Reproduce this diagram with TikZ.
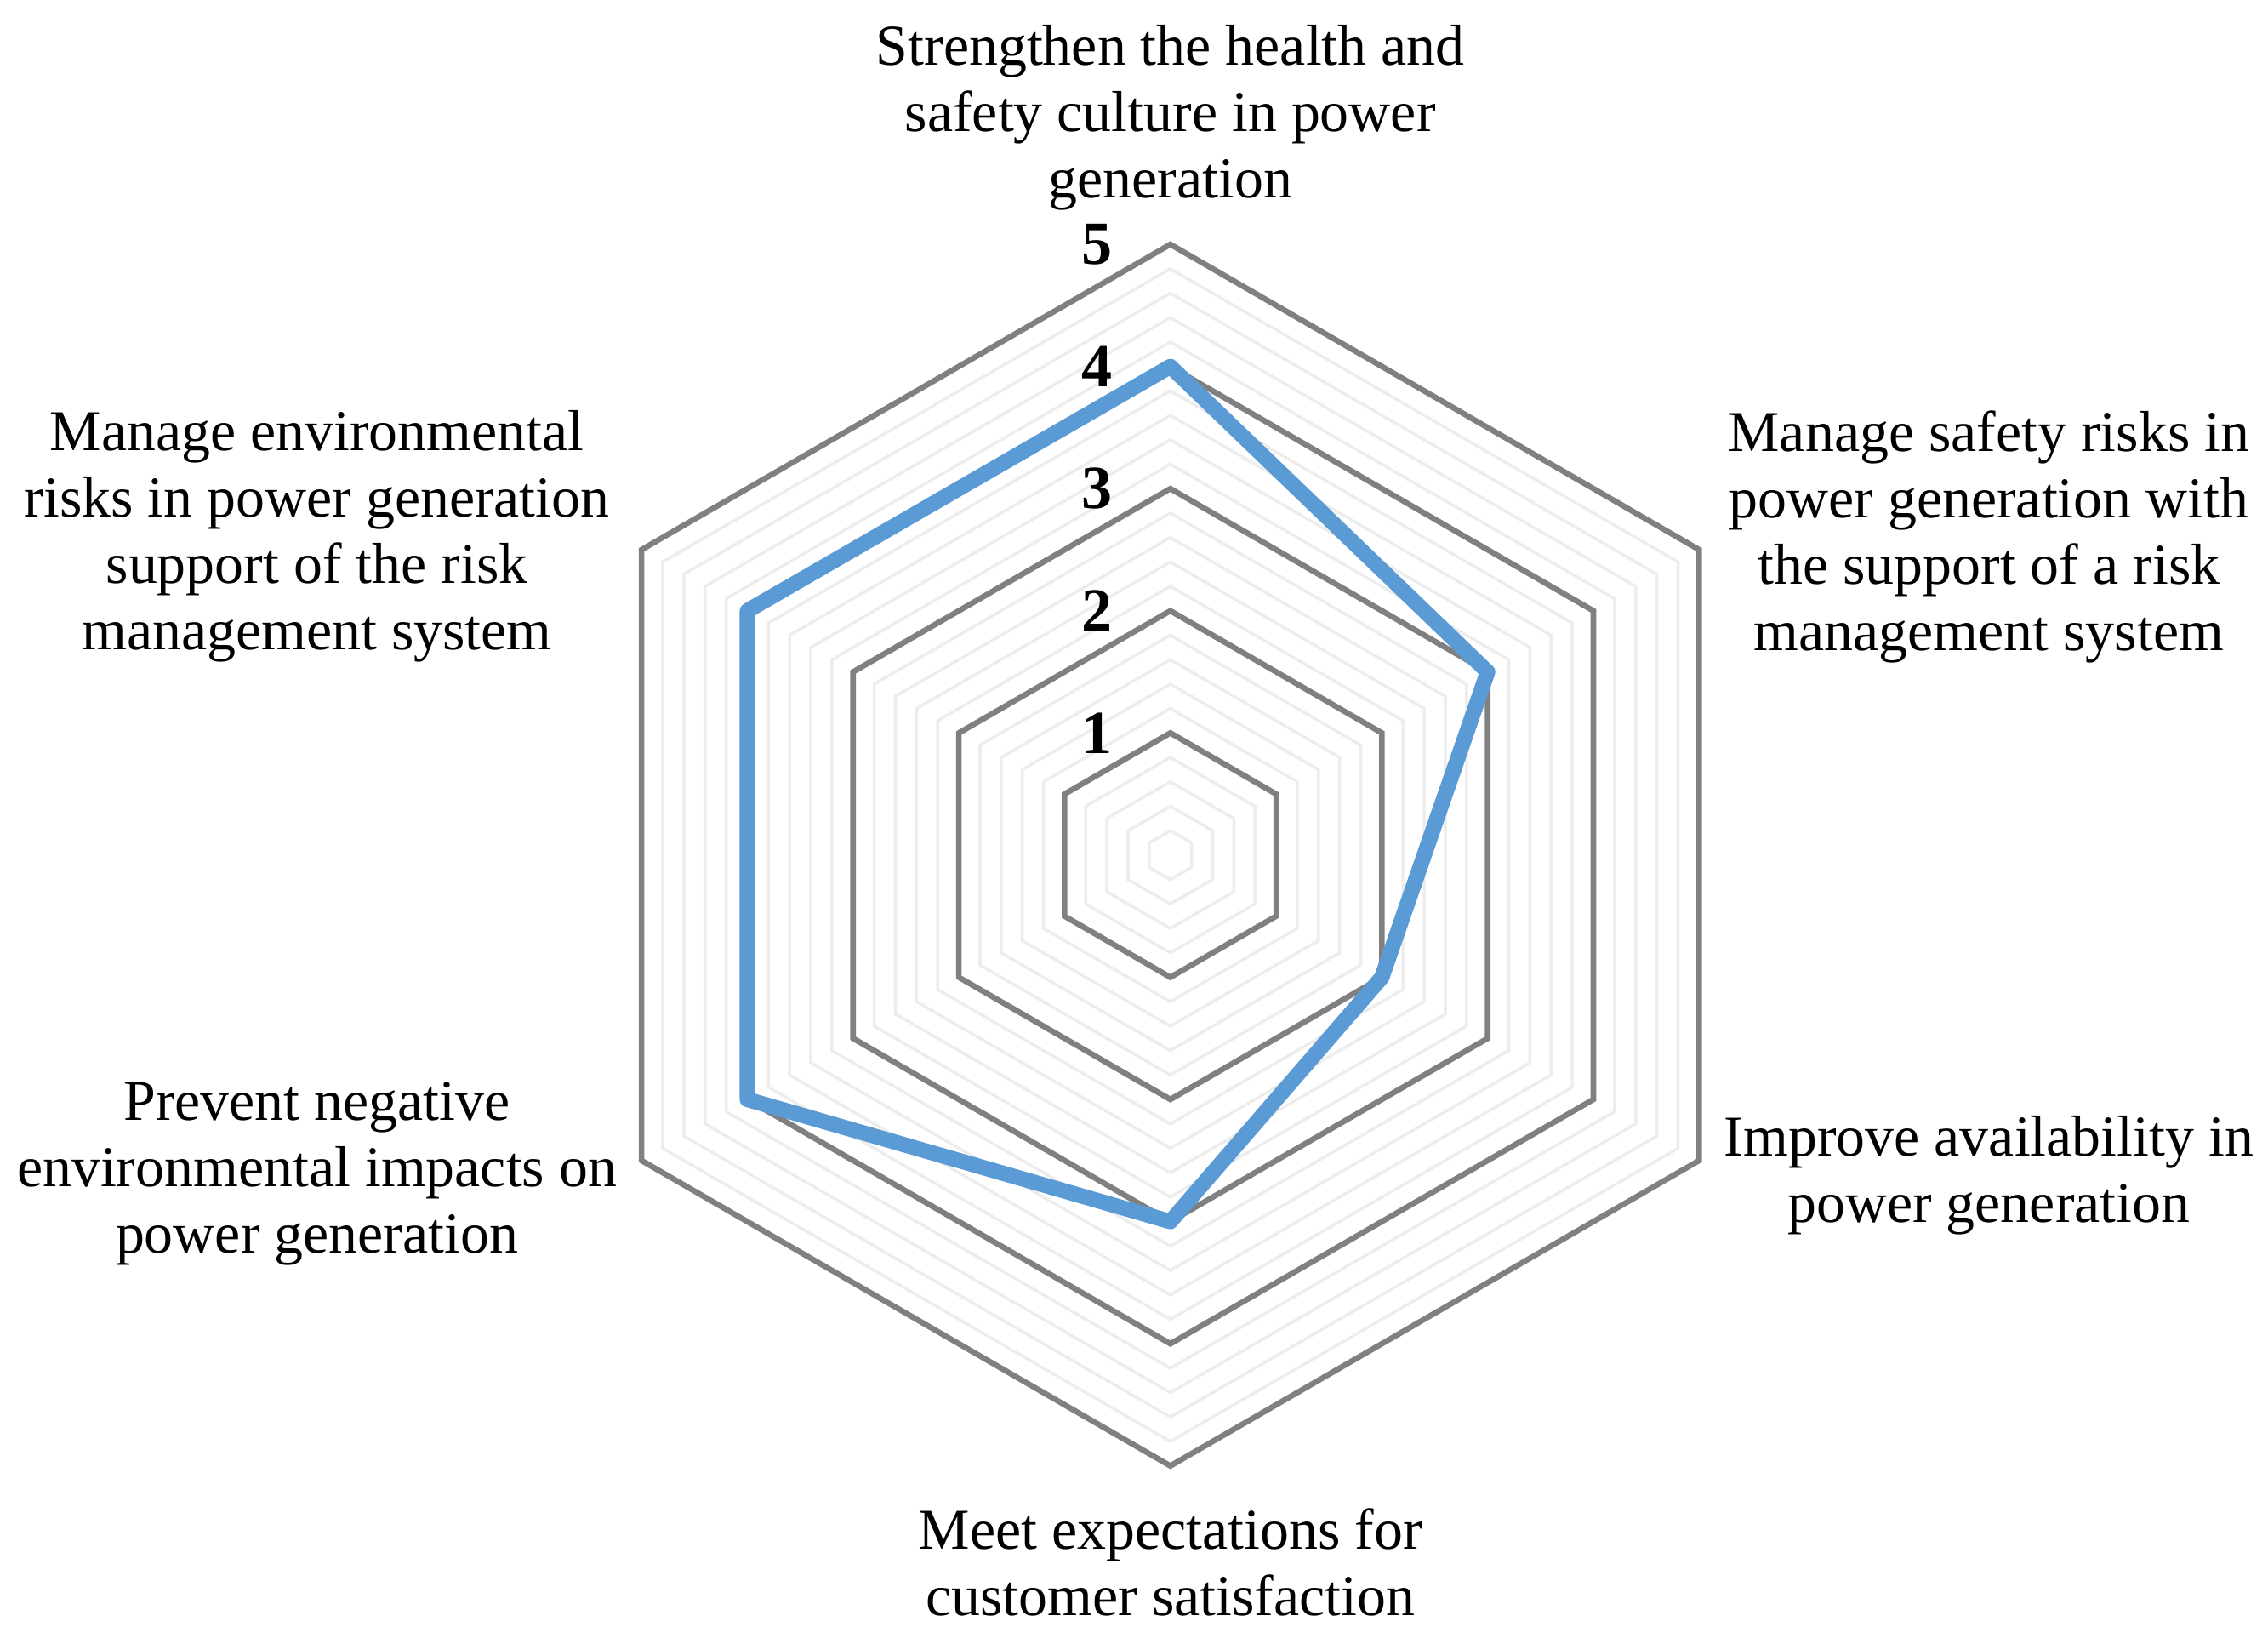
\documentclass[tikz,border=0pt]{standalone}
\usepackage{fontspec}
\setmainfont{Liberation Serif}
\usetikzlibrary{calc}
\definecolor{seriesblue}{RGB}{91,155,213}
\tikzset{
  minorgrid/.style={draw=black!7, line width=0.6pt},
  majorgrid/.style={draw=black!50, line width=1.1pt},
  axislabel/.style={align=center, font=\fontsize{11.3}{13.0}\selectfont, inner sep=0pt},
  ticklabel/.style={font=\fontsize{12}{14}\selectfont\bfseries, inner sep=0pt}
}
\begin{document}
\begin{tikzpicture}[x=0.84cm,y=0.84cm]
    \useasboundingbox (-8.05cm,-5.42cm) rectangle (7.55cm,5.88cm);
    % light rings every 0.2
    \foreach \r in {0.2,0.4,...,4.8} {
        \draw [minorgrid] (90:\r) -- (30:\r) -- (-30:\r) -- (-90:\r) -- (210:\r) -- (150:\r) -- cycle;
    }
    % major rings
    \foreach \r in {1,...,5} {
        \draw [majorgrid] (90:\r) -- (30:\r) -- (-30:\r) -- (-90:\r) -- (210:\r) -- (150:\r) -- cycle;
        \node [ticklabel] (tick\r) at ($(-0.6,0)+(0,\r)$) {\r};
    }
    % series
    \draw [seriesblue, line width=3pt, line join=round]
        (90:4) -- (30:3) -- (-30:2) -- (-90:3) -- (210:4) -- (150:4) -- cycle;
    % axis titles
    \node [axislabel] (top) at (0cm,5.07cm) {Strengthen the health and\\safety culture in power\\generation};
    \node [axislabel] (upright) at (5.63cm,2.19cm) {Manage safety risks in\\power generation with\\the support of a risk\\management system};
    \node [axislabel] (downright) at (5.63cm,-2.2cm) {Improve availability in\\power generation};
    \node [axislabel] (bottom) at (0cm,-4.86cm) {Meet expectations for\\customer satisfaction};
    \node [axislabel] (downleft) at (-5.87cm,-2.19cm) {Prevent negative\\environmental impacts on\\power generation};
    \node [axislabel] (upleft) at (-5.87cm,2.19cm) {Manage environmental\\risks in power generation\\support of the risk\\management system};
\end{tikzpicture}
\end{document}
